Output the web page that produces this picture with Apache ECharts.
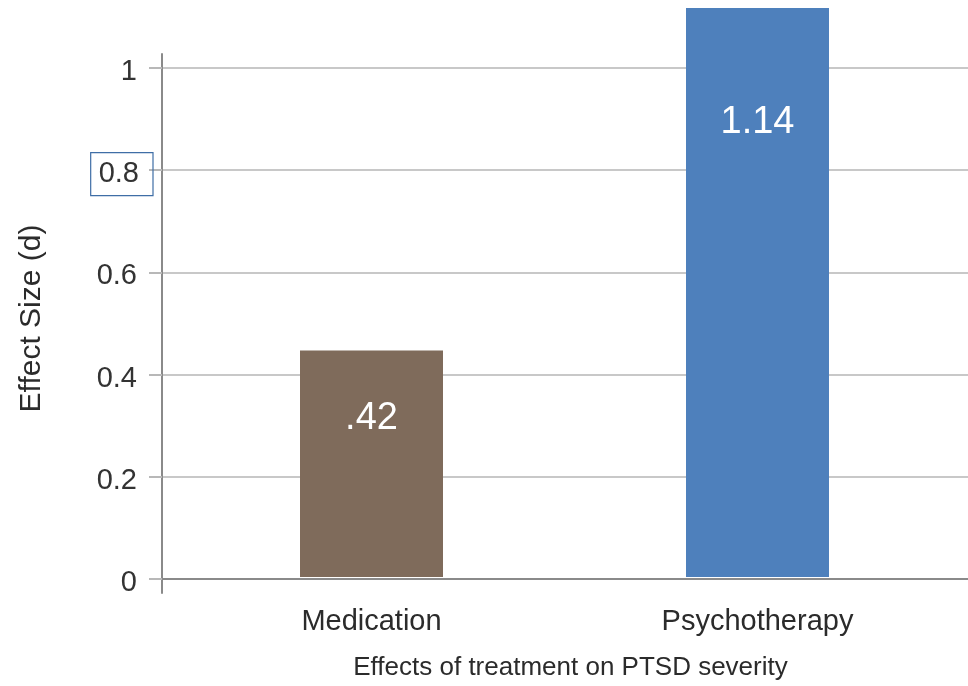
<!DOCTYPE html>
<html>
<head>
<meta charset="utf-8">
<script src="https://cdn.jsdelivr.net/npm/echarts@6/dist/echarts.min.js"></script>
<style>html,body{margin:0;padding:0;background:#fff;}#c{width:968px;height:686px;}</style>
</head>
<body>
<div id="c"></div>
<script>
// ---- data ----
var categories = ['Medication', 'Psychotherapy'];
var effectValues = [0.445, 1.14];
var valueLabels = ['.42', '1.14'];
var yTickLabels = ['0', '0.2', '0.4', '0.6', '0.8', '1'];
var xAxisTitle = 'Effects of treatment on PTSD severity';
var yAxisTitle = 'Effect Size (d)';

// ---- styling ----
var barColors = ['#7F6B5B', '#4E80BC'];
var labelDistances = [49, 96];
var FONT = '"Liberation Sans", Arial, sans-serif';
var BOTTOM = 107;          // zero line at y=579
var PX_PER_UNIT = 511;
var TOP_BARS = 8;          // plot area (clip) top
var YMAX_BARS = (686 - BOTTOM - TOP_BARS) / PX_PER_UNIT;

var chart = echarts.init(document.getElementById('c'), null, {renderer: 'canvas'});

var barData = effectValues.map(function (v, i) {
  return {
    value: v,
    itemStyle: {color: barColors[i]},
    label: {distance: labelDistances[i]}
  };
});

chart.setOption({
  animation: false,
  backgroundColor: '#ffffff',
  grid: [
    {left: 178.5, right: 17.5, top: TOP_BARS, bottom: BOTTOM},
    {left: 162, right: 0, top: 686 - BOTTOM - PX_PER_UNIT, bottom: BOTTOM},
    {left: 162, right: 0, top: 54, bottom: 93}
  ],
  xAxis: [
    {
      type: 'category', gridIndex: 0, data: categories,
      axisLine: {show: false}, axisTick: {show: false},
      axisLabel: {margin: 30, fontSize: 29, color: '#2b2b2b', fontFamily: FONT},
      name: xAxisTitle, nameLocation: 'middle', nameGap: 78,
      nameTextStyle: {fontSize: 26, color: '#2b2b2b', fontFamily: FONT, padding: [0, 0, 0, 12]}
    },
    {
      type: 'value', gridIndex: 1, min: 0, max: 1,
      axisLine: {show: true, onZero: false, lineStyle: {color: '#8a8a8a', width: 2}},
      axisTick: {show: false}, axisLabel: {show: false}, splitLine: {show: false}
    },
    {type: 'value', gridIndex: 2, show: false}
  ],
  yAxis: [
    {type: 'value', gridIndex: 0, min: 0, max: YMAX_BARS, show: false},
    {
      type: 'value', gridIndex: 1, min: 0, max: 1, interval: 0.2,
      axisLine: {show: false},
      axisTick: {show: true, length: 13, lineStyle: {color: '#b8b8b8', width: 2}},
      splitLine: {show: true, lineStyle: {color: '#c8c8c8', width: 2}},
      axisLabel: {
        margin: 9,
        padding: [8, 0, 0, 0],
        formatter: function (v) {
          var idx = Math.round(v / 0.2);
          var t = yTickLabels[idx];
          return idx === 4 ? '{box|' + t + '}' : '{n|' + t + '}';
        },
        rich: {
          n: {fontSize: 29, color: '#333333', fontFamily: FONT, padding: [0, 16, 0, 0]},
          box: {fontSize: 29, color: '#333333', fontFamily: FONT, padding: [7, 14, 7, 8],
                borderColor: '#3f6ea6', borderWidth: 1.2}
        }
      },
      name: yAxisTitle, nameLocation: 'middle', nameGap: 115,
      nameTextStyle: {fontSize: 30, color: '#2b2b2b', fontFamily: FONT, padding: [0, 0, 0, 10]}
    },
    {
      type: 'value', gridIndex: 2, min: 0, max: 1,
      axisLine: {show: true, lineStyle: {color: '#8a8a8a', width: 2}},
      axisTick: {show: false}, axisLabel: {show: false}, splitLine: {show: false}
    }
  ],
  series: [{
    type: 'bar', xAxisIndex: 0, yAxisIndex: 0,
    barWidth: 143, clip: true, z: 5,
    data: barData,
    label: {
      show: true, position: 'insideTop',
      fontSize: 38, color: '#ffffff', fontFamily: FONT,
      formatter: function (p) { return valueLabels[p.dataIndex]; }
    }
  }]
});
</script>
</body>
</html>
